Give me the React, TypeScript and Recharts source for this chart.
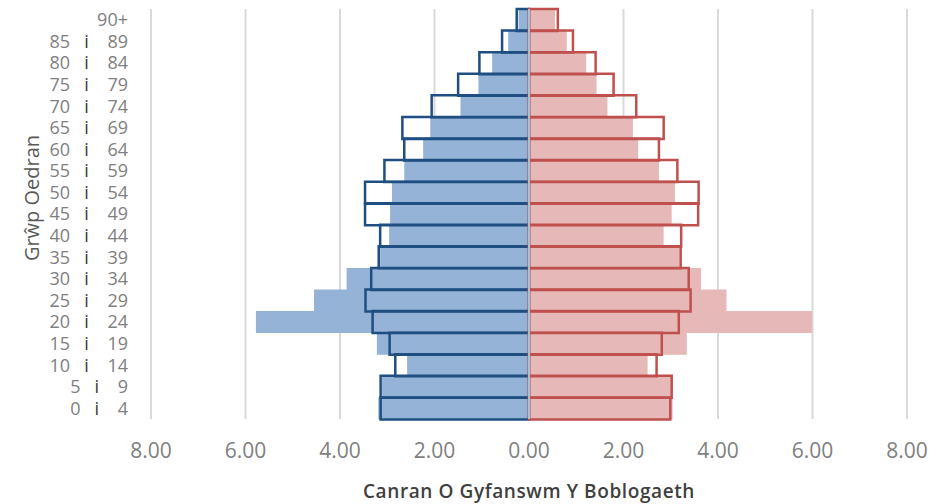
import { BarChart, Bar, XAxis, YAxis, CartesianGrid, ReferenceLine, Label } from 'recharts'

// ─── Data (bottom → top) ──────────────────────────────────────────────────────

const AGE_GROUPS = [
  '0 i 4', '5 i 9', '10 i 14', '15 i 19', '20 i 24', '25 i 29', '30 i 34',
  '35 i 39', '40 i 44', '45 i 49', '50 i 54', '55 i 59', '60 i 64', '65 i 69',
  '70 i 74', '75 i 79', '80 i 84', '85 i 89', '90+',
]

// filled bars
const MALE_FILL = [3.19, 3.11, 2.58, 3.22, 5.78, 4.55, 3.86, 3.15, 2.96, 2.94, 2.9, 2.64, 2.24, 2.09, 1.45, 1.07, 0.78, 0.44, 0.22]
const FEMALE_FILL = [3.04, 3.01, 2.51, 3.34, 5.99, 4.18, 3.64, 3.19, 2.85, 3.02, 3.09, 2.75, 2.31, 2.2, 1.66, 1.43, 1.21, 0.8, 0.55]

// outlined bars
const MALE_LINE = [3.14, 3.14, 2.83, 2.95, 3.31, 3.46, 3.34, 3.18, 3.15, 3.47, 3.47, 3.06, 2.64, 2.68, 2.06, 1.5, 1.05, 0.57, 0.26]
const FEMALE_LINE = [2.99, 3.02, 2.7, 2.81, 3.17, 3.42, 3.38, 3.21, 3.22, 3.58, 3.59, 3.14, 2.75, 2.85, 2.27, 1.79, 1.41, 0.93, 0.61]

const X_TICKS = [-8, -6, -4, -2, 0, 2, 4, 6, 8]

const data = AGE_GROUPS.map((age, i) => ({
  age,
  maleFill: -MALE_FILL[i],
  femaleFill: FEMALE_FILL[i],
  maleLine: -MALE_LINE[i],
  femaleLine: FEMALE_LINE[i],
}))

const FONT = '"Open Sans", sans-serif'
const NBSP = '\u00A0'

function AgeTick({ x, y, payload }: any) {
  const parts = String(payload.value).split(' i ')
  return (
    <text x={x} y={y} dy="0.36em" textAnchor="end" fontSize={18} fontFamily={FONT} fill="#808080">
      {parts.length === 2 ? (
        <>
          {parts[0]}
          <tspan fill="#3a3a3a">{NBSP.repeat(3) + 'i' + NBSP.repeat(4)}</tspan>
          {parts[1]}
        </>
      ) : payload.value}
    </text>
  )
}

function YTitle({ viewBox }: any) {
  const cx = viewBox.x + 31
  const cy = viewBox.y + viewBox.height / 2 - 16
  return (
    <text x={cx} y={cy} transform={`rotate(-90 ${cx} ${cy})`} textAnchor="middle"
      dominantBaseline="central" fontSize={20} fontFamily={FONT} fill="#595959">
      Grŵp Oedran
    </text>
  )
}

export default function App() {
  return (
    <div style={{ position: 'absolute', left: 0, top: 0 }}>
      <BarChart width={946} height={504} data={data} layout="vertical"
        margin={{ top: 9, right: 39, bottom: 0, left: 0 }}
        barCategoryGap={0} barGap={0} stackOffset="sign">
        <CartesianGrid xAxisId="main" yAxisId="main" horizontal={false} stroke="#d9d9d9" strokeWidth={2} />
        <XAxis xAxisId="main" type="number" domain={[-8, 8]} ticks={X_TICKS} interval={0}
          tickFormatter={(v: number) => Math.abs(v).toFixed(2)} axisLine={false} tickLine={false}
          tickMargin={18} height={85}
          tick={{ fontSize: 21, fill: '#7f7f7f', fontFamily: FONT }}>
          <Label value="Canran O Gyfanswm Y Boblogaeth" position="insideBottom" offset={6}
            fill="#404040" fontSize={19} fontWeight={600} letterSpacing={0.6} fontFamily={FONT} />
        </XAxis>
        <XAxis xAxisId="over" type="number" domain={[-8, 8]} hide />
        <YAxis yAxisId="main" type="category" dataKey="age" reversed width={151}
          axisLine={false} tickLine={false} tickMargin={17} interval={0} tick={<AgeTick />}>
          <Label content={<YTitle />} />
        </YAxis>
        <YAxis yAxisId="over" type="category" dataKey="age" reversed hide />

        <Bar xAxisId="main" yAxisId="main" dataKey="maleFill" stackId="fill" fill="#95b3d7" isAnimationActive={false} />
        <Bar xAxisId="main" yAxisId="main" dataKey="femaleFill" stackId="fill" fill="#e6b9b8" isAnimationActive={false} />
        <Bar xAxisId="over" yAxisId="over" dataKey="maleLine" stackId="line" fill="none"
          stroke="#1f4e82" strokeWidth={2.5} isAnimationActive={false} />
        <Bar xAxisId="over" yAxisId="over" dataKey="femaleLine" stackId="line" fill="none"
          stroke="#c0504d" strokeWidth={2.5} isAnimationActive={false} />

        <ReferenceLine xAxisId="main" yAxisId="main" x={0} stroke="#b4bcc8" strokeWidth={2} />
      </BarChart>
    </div>
  )
}
